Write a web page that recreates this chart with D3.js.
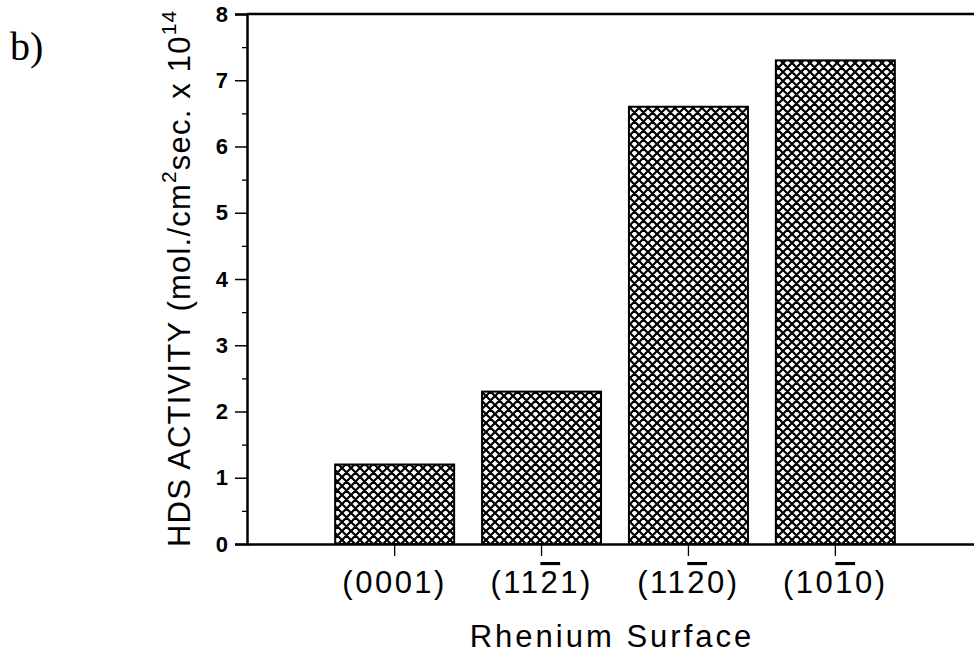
<!DOCTYPE html>
<html>
<head>
<meta charset="utf-8">
<script src="https://cdn.jsdelivr.net/npm/d3@7"></script>
<style>
  body { margin: 0; background: #fff; }
  svg { display: block; }
</style>
</head>
<body>
<div id="chart"></div>
<script>
// data
var surfaces = ["(0001)", "(11-21)", "(11-20)", "(10-10)"];
// label pieces: [text, has overbar]
var surfaceLabels = [
  [["(0001)", false]],
  [["(11", false], ["2", true], ["1)", false]],
  [["(11", false], ["2", true], ["0)", false]],
  [["(10", false], ["1", true], ["0)", false]]
];
var activity = [1.2, 2.3, 6.6, 7.3];
var yTicks = [0, 1, 2, 3, 4, 5, 6, 7, 8];

var w = 974, h = 653;
var sans = "Liberation Sans, Arial, sans-serif";

var svg = d3.select("#chart").append("svg")
  .attr("width", w)
  .attr("height", h);

// cross hatch fill
var pat = svg.append("defs").append("pattern")
  .attr("id", "xhatch")
  .attr("patternUnits", "userSpaceOnUse")
  .attr("width", 9)
  .attr("height", 9);
pat.append("path")
  .attr("d", "M-1,1 L1,-1 M0,9 L9,0 M8,10 L10,8 M-1,8 L1,10 M0,0 L9,9 M8,-1 L10,1")
  .attr("stroke", "#000")
  .attr("stroke-width", 2.2);

var xScale = d3.scaleBand()
  .domain(surfaces)
  .range([247, 983])
  .paddingInner(0.19)
  .paddingOuter(0.6);

var yScale = d3.scaleLinear()
  .domain([0, 8])
  .range([544, 14]);

// bars
svg.selectAll("rect.bar")
  .data(activity)
  .enter()
  .append("rect")
  .attr("class", "bar")
  .attr("x", (d, i) => xScale(surfaces[i]))
  .attr("y", d => yScale(d))
  .attr("width", xScale.bandwidth())
  .attr("height", d => yScale(0) - yScale(d))
  .attr("fill", "url(#xhatch)")
  .attr("stroke", "#000")
  .attr("stroke-width", 2);

// y axis
var gy = svg.append("g")
  .attr("id", "y-axis")
  .attr("transform", "translate(247,0)")
  .call(d3.axisLeft(yScale)
    .tickValues(yTicks)
    .tickSize(12)
    .tickFormat(d3.format("d")));
gy.select(".domain").attr("stroke-width", 2.5);
gy.selectAll(".tick line").attr("stroke-width", 1.5);
gy.selectAll(".tick text")
  .attr("font-family", sans)
  .attr("font-weight", "bold")
  .attr("font-size", 22)
  .attr("x", -19);

// minor ticks
var gyMinor = svg.append("g")
  .attr("transform", "translate(247,0)")
  .call(d3.axisLeft(yScale)
    .tickValues(d3.range(0.5, 8, 1))
    .tickSize(5)
    .tickFormat(""));
gyMinor.select(".domain").remove();
gyMinor.selectAll(".tick line").attr("stroke-width", 1.3);

// x axis
var gx = svg.append("g")
  .attr("id", "x-axis")
  .attr("transform", "translate(0,544)")
  .call(d3.axisBottom(xScale).tickSize(12).tickSizeOuter(0).tickFormat(""));
gx.select(".domain").attr("stroke-width", 2.5);
gx.selectAll(".tick line").attr("stroke-width", 1.3);

// top frame
svg.append("line")
  .attr("x1", 247).attr("x2", w)
  .attr("y1", yScale(8)).attr("y2", yScale(8))
  .attr("stroke", "#000")
  .attr("stroke-width", 2.5);

// category labels with overbars
surfaces.forEach(function(s, i) {
  var t = svg.append("text")
    .attr("x", xScale(s) + xScale.bandwidth() / 2)
    .attr("y", 593)
    .attr("text-anchor", "middle")
    .attr("font-family", sans)
    .attr("font-size", 31)
    .attr("letter-spacing", 2.5);
  surfaceLabels[i].forEach(function(part) {
    var sp = t.append("tspan").text(part[0]);
    if (part[1]) sp.attr("text-decoration", "overline");
  });
});

// x axis title
svg.append("text")
  .attr("x", 612)
  .attr("y", 647)
  .attr("text-anchor", "middle")
  .attr("font-family", sans)
  .attr("font-size", 31)
  .attr("letter-spacing", 3)
  .text("Rhenium Surface");

// y axis title
var yt = svg.append("text")
  .attr("transform", "translate(190,547) rotate(-90)")
  .attr("font-family", sans)
  .attr("font-size", 31)
  .attr("letter-spacing", 1.2);
yt.append("tspan").text("HDS ACTIVITY (mol./cm");
yt.append("tspan").attr("dy", -14).attr("font-size", 21).text("2");
yt.append("tspan").attr("dy", 14).text("sec. x 10");
yt.append("tspan").attr("dy", -14).attr("font-size", 21).text("14");

// panel letter
svg.append("text")
  .attr("x", 10)
  .attr("y", 60)
  .attr("font-family", "Liberation Serif, Times New Roman, serif")
  .attr("font-size", 40)
  .text("b)");
</script>
</body>
</html>
